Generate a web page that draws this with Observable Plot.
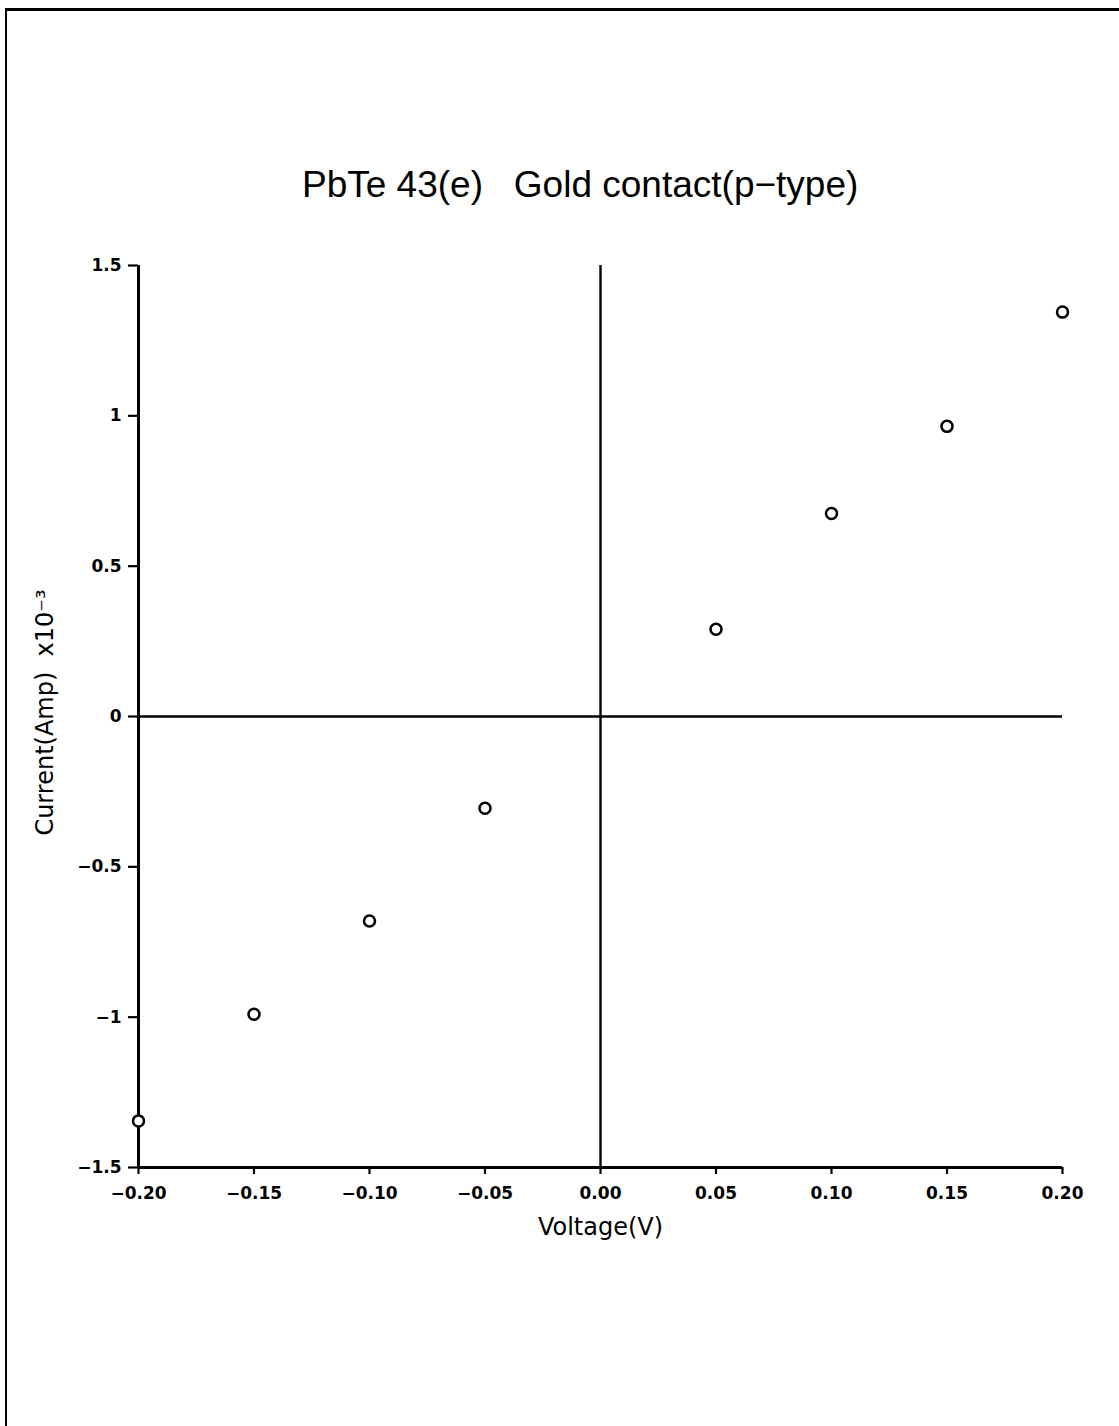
<!DOCTYPE html>
<html>
<head>
<meta charset="utf-8">
<script src="https://cdn.jsdelivr.net/npm/d3@7"></script>
<script src="https://cdn.jsdelivr.net/npm/@observablehq/plot@0.6"></script>
<style>
  html, body { margin: 0; padding: 0; background: #fff; }
  #page { position: relative; width: 1119px; height: 1426px; overflow: hidden; background: #fff; }
  #frame { position: absolute; left: 5px; top: 8px; width: 1120px; height: 1430px; z-index: 2;
           border-left: 2.5px solid #000; border-top: 3px solid #000; pointer-events: none; }
  #title { position: absolute; left: 302px; top: 166px; font-family: "Liberation Sans", Arial, sans-serif;
           font-size: 37px; line-height: 37px; color: #000; white-space: pre; }
  #chart { position: absolute; left: 0; top: 230px; z-index: 1; }
</style>
</head>
<body>
<div id="page">
  <div id="frame"></div>
  <div id="title">PbTe 43(e)   Gold contact(p−type)</div>
  <div id="chart"></div>
</div>
<script>
// Data
const voltage = [-0.20, -0.15, -0.10, -0.05, 0.05, 0.10, 0.15, 0.20];
const current = [-1.345, -0.99, -0.68, -0.305, 0.29, 0.675, 0.965, 1.345];
const xTicks = [-0.20, -0.15, -0.10, -0.05, 0.00, 0.05, 0.10, 0.15, 0.20];
const yTicks = [-1.5, -1, -0.5, 0, 0.5, 1, 1.5];
const xLabel = "Voltage(V)";
const yLabel = "Current(Amp)  x10⁻³";

const points = voltage.map((v, i) => ({v, c: current[i]}));
const fmtX = d3.format(".2f");
const fmtY = d => d === 0 ? "0" : d3.format("~g")(d);

const tickFont = {fontFamily: "DejaVu Sans, sans-serif", fontSize: 17, fontWeight: "bold"};

const chart = Plot.plot({
  width: 1119,
  height: 1196,
  marginLeft: 138,
  marginRight: 57,
  marginTop: 35,
  marginBottom: 259,
  style: {background: "transparent", color: "black", overflow: "visible"},
  x: {domain: [-0.2, 0.2]},
  y: {domain: [-1.5, 1.5]},
  marks: [
    Plot.axisX(xTicks, {tickFormat: fmtX, tickSize: 7, tickPadding: 12, strokeWidth: 2.2, label: null, ...tickFont}),
    Plot.axisY(yTicks, {tickFormat: fmtY, tickSize: 10, tickPadding: 7, strokeWidth: 2.2, label: null, ...tickFont}),
    Plot.ruleY([-1.5], {strokeWidth: 3}),
    Plot.ruleX([-0.2], {strokeWidth: 3}),
    Plot.ruleY([0], {strokeWidth: 2.4}),
    Plot.ruleX([0], {strokeWidth: 2.4}),
    Plot.dot(points, {x: "v", y: "c", r: 5.5, stroke: "black", strokeWidth: 2.5, fill: "white"}),
    Plot.text([xLabel], {text: d => d, frameAnchor: "bottom", dy: 60, fontSize: 24,
      fontFamily: "DejaVu Sans, sans-serif", lineAnchor: "middle"}),
    Plot.text([yLabel], {text: d => d, frameAnchor: "left", textAnchor: "middle", dx: -93, dy: -4, rotate: -90, fontSize: 24,
      fontFamily: "DejaVu Sans, sans-serif"})
  ]
});
document.getElementById("chart").appendChild(chart);
</script>
</body>
</html>
